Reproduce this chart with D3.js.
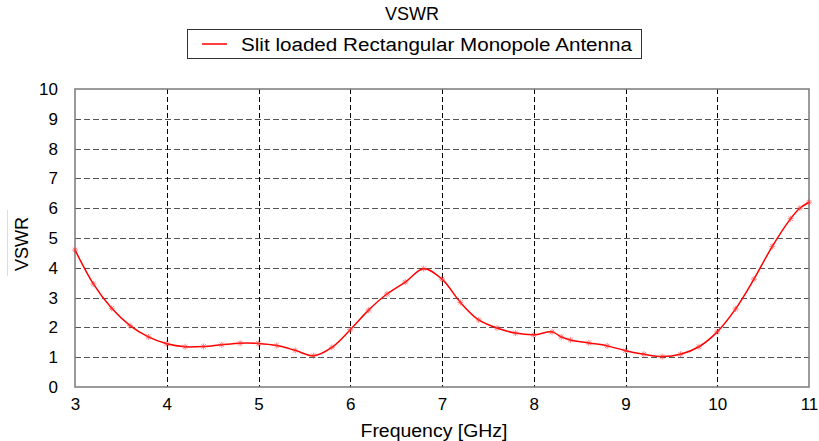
<!DOCTYPE html>
<html>
<head>
<meta charset="utf-8">
<script src="https://cdn.jsdelivr.net/npm/d3@7"></script>
<style>
  html, body { margin: 0; padding: 0; background: #fff; }
  svg { display: block; font-family: "Liberation Sans", Arial, sans-serif; }
</style>
</head>
<body>
<svg id="chart" width="819" height="441"></svg>
<script>
// ---- data ----
const chartTitle = "VSWR";
const seriesName = "Slit loaded Rectangular Monopole Antenna";
const xLabel = "Frequency [GHz]";
const yLabel = "VSWR";
const frequency = [3.0, 3.2, 3.4, 3.6, 3.8, 4.0, 4.2, 4.4, 4.6, 4.8, 5.0, 5.2, 5.4, 5.6, 5.8,
                   6.0, 6.2, 6.4, 6.6, 6.8, 7.0, 7.2, 7.4, 7.6, 7.8, 8.0, 8.2, 8.3, 8.4, 8.6,
                   8.8, 9.0, 9.2, 9.4, 9.6, 9.8, 10.0, 10.2, 10.4, 10.6, 10.8, 10.9, 11.0];
const vswr = [4.60, 3.46, 2.64, 2.06, 1.68, 1.45, 1.35, 1.36, 1.42, 1.47, 1.46, 1.39, 1.23, 1.05, 1.33,
              1.92, 2.58, 3.12, 3.52, 3.97, 3.62, 2.84, 2.25, 1.98, 1.81, 1.75, 1.85, 1.68, 1.58, 1.48,
              1.38, 1.22, 1.10, 1.02, 1.10, 1.35, 1.85, 2.62, 3.62, 4.72, 5.65, 6.00, 6.20];
const xTicks = [3, 4, 5, 6, 7, 8, 9, 10, 11];
const yTicks = [0, 1, 2, 3, 4, 5, 6, 7, 8, 9, 10];

// ---- layout ----
const svg = d3.select("#chart");
const pL = 75, pR = 809, pT = 89, pB = 387;
const x = d3.scaleLinear().domain([3, 11]).range([pL, pR]);
const y = d3.scaleLinear().domain([0, 10]).range([pB, pT]);
const data = frequency.map((f, i) => ({ f, v: vswr[i] }));

// title
svg.append("text").attr("x", 412).attr("y", 20).attr("text-anchor", "middle")
  .attr("font-size", 18).attr("fill", "#000").text(chartTitle);

// legend
svg.append("rect").attr("x", 187.5).attr("y", 29.5).attr("width", 454).attr("height", 29)
  .attr("fill", "#fff").attr("stroke", "#333").attr("stroke-width", 1);
svg.append("line").attr("x1", 202).attr("x2", 227).attr("y1", 44).attr("y2", 44)
  .attr("stroke", "#ff0000").attr("stroke-width", 1.5);
svg.append("text").attr("x", 241).attr("y", 50.5).attr("font-size", 18)
  .attr("textLength", 391).attr("lengthAdjust", "spacingAndGlyphs")
  .attr("fill", "#000").text(seriesName);

// grid
const grid = svg.append("g");
grid.selectAll("line.h").data(yTicks.filter(t => t > 0 && t < 10)).join("line")
  .attr("x1", pL).attr("x2", pR)
  .attr("y1", d => Math.round(y(d)) + 0.5).attr("y2", d => Math.round(y(d)) + 0.5)
  .attr("stroke", "#555").attr("stroke-width", 1.2).attr("stroke-dasharray", "6,3");
grid.selectAll("line.v").data(xTicks.filter(t => t > 3 && t < 11)).join("line")
  .attr("y1", pT).attr("y2", pB)
  .attr("x1", d => Math.round(x(d)) + 0.5).attr("x2", d => Math.round(x(d)) + 0.5)
  .attr("stroke", "#000").attr("stroke-width", 1).attr("stroke-dasharray", "5,3");

// frame
svg.append("rect").attr("x", pL).attr("y", pT).attr("width", pR - pL).attr("height", pB - pT)
  .attr("fill", "none").attr("stroke", "#7a7a7a").attr("stroke-width", 1.5);

// axes (labels only)
const xAxis = svg.append("g").attr("transform", `translate(0,${pB})`)
  .call(d3.axisBottom(x).tickValues(xTicks).tickSize(0).tickPadding(10).tickFormat(d3.format("d")));
xAxis.select(".domain").remove();
xAxis.selectAll("text").attr("font-size", 17).attr("fill", "#000")
  .attr("font-family", "Liberation Sans, Arial, sans-serif").attr("dy", "0.75em");

const yAxis = svg.append("g").attr("transform", `translate(${pL},0)`)
  .call(d3.axisLeft(y).tickValues(yTicks).tickSize(0).tickPadding(17).tickFormat(d3.format("d")));
yAxis.select(".domain").remove();
yAxis.selectAll("text").attr("font-size", 17).attr("fill", "#000")
  .attr("font-family", "Liberation Sans, Arial, sans-serif");

// axis titles
svg.append("text").attr("x", 434).attr("y", 437).attr("text-anchor", "middle")
  .attr("font-size", 18).attr("textLength", 147).attr("lengthAdjust", "spacingAndGlyphs")
  .attr("fill", "#000").text(xLabel);
svg.append("line").attr("x1", 7.5).attr("x2", 7.5).attr("y1", 210).attr("y2", 276)
  .attr("stroke", "#ddd").attr("stroke-width", 1);
svg.append("text").attr("transform", "translate(28,244) rotate(-90)").attr("text-anchor", "middle")
  .attr("font-size", 18).attr("fill", "#000").text(yLabel);

// series
const line = d3.line().x(d => x(d.f)).y(d => y(d.v)).curve(d3.curveCatmullRom.alpha(0.5));
svg.append("path").datum(data).attr("d", line)
  .attr("fill", "none").attr("stroke", "#ff0000").attr("stroke-width", 1.5);

// markers (asterisks)
const mk = svg.append("g");
mk.selectAll("path").data(data).join("path")
  .attr("transform", d => `translate(${x(d.f)},${y(d.v)})`)
  .attr("d", "M-3,0H3M0,-3V3M-2.2,-2.2L2.2,2.2M-2.2,2.2L2.2,-2.2")
  .attr("stroke", "#ff3030").attr("stroke-width", 1).attr("fill", "none").attr("opacity", 0.6);
</script>
</body>
</html>
